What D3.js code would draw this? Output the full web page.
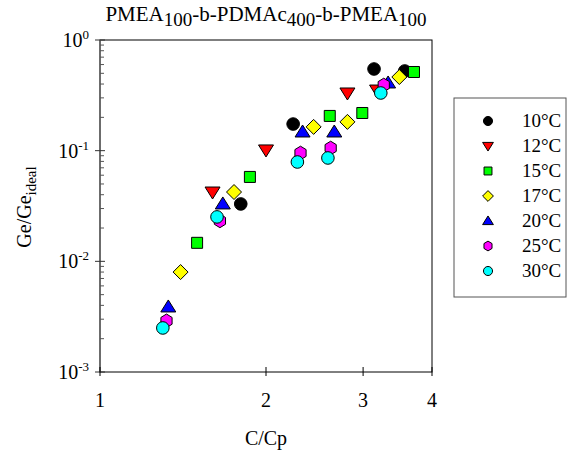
<!DOCTYPE html>
<html><head><meta charset="utf-8">
<script src="https://cdn.jsdelivr.net/npm/d3@7"></script>
<style>body{margin:0;background:#fff}svg{display:block}</style>
</head><body>
<svg id="c" width="567" height="451" font-family="'Liberation Serif','Times New Roman',serif"></svg>
<script>
const series = ["10°C","12°C","15°C","17°C","20°C","25°C","30°C"];
const colors = ["#000000","#ff0000","#00ff00","#ffff00","#0000ff","#ff00ff","#00ffff"];
const shapes = ["circle","triDown","square","diamond","triUp","hexagon","circle"];
const xVals = [
  [1.80, 2.24, 3.14, 3.57],
  [1.60, 2.00, 2.81, 3.18],
  [1.50, 1.87, 2.61, 2.99, 3.71],
  [1.40, 1.75, 2.44, 2.81, 3.49],
  [1.33, 1.67, 2.33, 2.66, 3.33],
  [1.32, 1.65, 2.31, 2.62, 3.27],
  [1.30, 1.63, 2.28, 2.59, 3.23]
];
const yVals = [
  [0.033, 0.174, 0.547, 0.525],
  [0.0423, 0.1015, 0.332, 0.353],
  [0.0147, 0.0579, 0.206, 0.219, 0.514],
  [0.0080, 0.0423, 0.164, 0.182, 0.463],
  [0.00387, 0.033, 0.1475, 0.1475, 0.409],
  [0.0029, 0.0232, 0.0953, 0.1057, 0.392],
  [0.0025, 0.0252, 0.079, 0.0859, 0.332]
];
const xTicks = [1, 2, 3, 4];
const yTickExps = [0, -1, -2, -3];

const svg = d3.select("#c");
const L = 100, R = 432, T = 40, B = 372;
const x = d3.scaleLog().domain([1, 4]).range([L, R]);
const y = d3.scaleLog().domain([1e-3, 1]).range([B, T]);

function shapePath(s, k) {
  const p = d3.path();
  if (s === "circle") { p.arc(0, 0, 6.3 * k, 0, 2 * Math.PI); }
  else if (s === "square") { const h = 5.5 * k; p.rect(-h, -h, 2 * h, 2 * h); }
  else if (s === "diamond") { const h = 7.5 * k; p.moveTo(0, -h); p.lineTo(h, 0); p.lineTo(0, h); p.lineTo(-h, 0); p.closePath(); }
  else if (s === "triUp") { p.moveTo(0, -7 * k); p.lineTo(7.5 * k, 5 * k); p.lineTo(-7.5 * k, 5 * k); p.closePath(); }
  else if (s === "triDown") { p.moveTo(0, 7 * k); p.lineTo(7.5 * k, -5 * k); p.lineTo(-7.5 * k, -5 * k); p.closePath(); }
  else if (s === "hexagon") {
    const r = 6.8 * k;
    for (let i = 0; i < 6; i++) {
      const a = Math.PI / 2 + i * Math.PI / 3;
      const px = r * Math.cos(a) * 0.95, py = r * Math.sin(a);
      if (i === 0) p.moveTo(px, py); else p.lineTo(px, py);
    }
    p.closePath();
  }
  return p.toString();
}

// Frame
svg.append("rect").attr("x", L).attr("y", T).attr("width", R - L).attr("height", B - T)
  .attr("fill", "none").attr("stroke", "#000").attr("stroke-width", 1);
svg.append("line").attr("x1", L).attr("x2", L).attr("y1", T).attr("y2", B).attr("stroke", "#666").attr("stroke-width", 1.5);

// Y axis ticks
const yAxis = svg.append("g");
for (let e = -3; e < 0; e++) {
  for (let m = 2; m <= 9; m++) {
    const v = m * Math.pow(10, e);
    yAxis.append("line").attr("x1", L).attr("x2", L + 4).attr("y1", y(v)).attr("y2", y(v)).attr("stroke", "#555");
  }
}
yTickExps.forEach(e => {
  const v = Math.pow(10, e);
  yAxis.append("line").attr("x1", L - 5).attr("x2", L + 5).attr("y1", y(v)).attr("y2", y(v)).attr("stroke", "#333");
  const t = yAxis.append("text").attr("x", 89).attr("y", y(v) + 7).attr("text-anchor", "end").attr("font-size", 20);
  t.append("tspan").text("10");
  t.append("tspan").attr("font-size", 13).attr("dy", -8).text(String(e));
});

// X axis ticks
xTicks.forEach(v => {
  svg.append("line").attr("x1", x(v)).attr("x2", x(v)).attr("y1", B - 5).attr("y2", B + 4).attr("stroke", "#000");
  svg.append("text").attr("x", x(v)).attr("y", 407).attr("text-anchor", "middle").attr("font-size", 20).text(v);
});

// Axis titles
svg.append("text").attr("x", 266).attr("y", 445).attr("text-anchor", "middle").attr("font-size", 20).text("C/Cp");
const yt = svg.append("text").attr("transform", "translate(31,207) rotate(-90)").attr("text-anchor", "middle").attr("font-size", 20);
yt.append("tspan").text("Ge/Ge");
yt.append("tspan").attr("font-size", 15).attr("dy", 5).text("ideal");

// Title
const tt = svg.append("text").attr("x", 266).attr("y", 21).attr("text-anchor", "middle").attr("font-size", 21);
[["PMEA",0],["100",1],["-b-PDMAc",0],["400",1],["-b-PMEA",0],["100",1]].forEach((d, i) => {
  const ts = tt.append("tspan").text(d[0]);
  if (d[1]) { ts.attr("font-size", 19).attr("dy", 5); }
  else if (i > 0) { ts.attr("dy", -5); }
});

// Points
series.forEach((s, i) => {
  const g = svg.append("g");
  xVals[i].forEach((xv, j) => {
    g.append("path").attr("d", shapePath(shapes[i], 1))
      .attr("transform", `translate(${x(xv)},${y(yVals[i][j])})`)
      .attr("fill", colors[i]).attr("stroke", "#000").attr("stroke-width", 1);
  });
});

// Legend
svg.append("rect").attr("x", 454).attr("y", 98).attr("width", 112).attr("height", 199)
  .attr("fill", "#fff").attr("stroke", "#555").attr("stroke-width", 1);
series.forEach((s, i) => {
  const cy = 121 + i * 25;
  svg.append("path").attr("d", shapePath(shapes[i], 0.72)).attr("transform", `translate(488,${cy})`)
    .attr("fill", colors[i]).attr("stroke", "#000").attr("stroke-width", 1);
  svg.append("text").attr("x", 522).attr("y", cy + 6).attr("font-size", 19).text(s);
});
</script>
</body></html>
